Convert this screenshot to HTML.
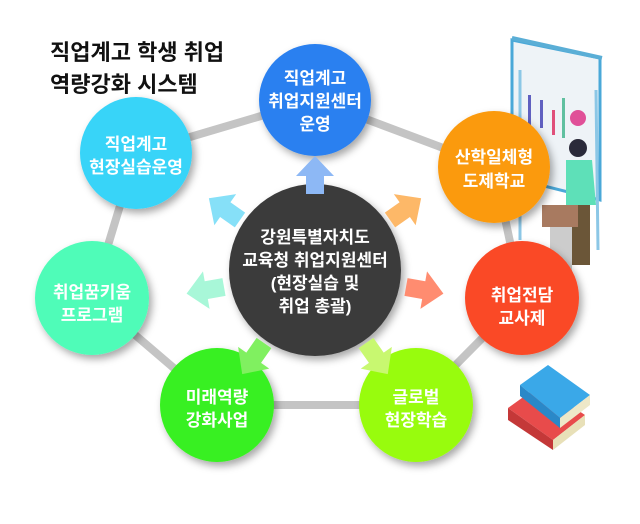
<!DOCTYPE html>
<html><head><meta charset="utf-8"><style>
body{margin:0;background:#fff;}
svg text{font-family:"Liberation Sans","Noto Sans CJK KR","NanumGothic",sans-serif;font-weight:bold;}
</style></head><body>
<svg width="640" height="519" viewBox="0 0 640 519" xmlns="http://www.w3.org/2000/svg">
<defs>
<filter id="sh" x="-30%" y="-30%" width="160%" height="160%"><feDropShadow dx="3" dy="4" stdDeviation="4" flood-color="#000" flood-opacity="0.35"/></filter>
<polygon id="ar" points="-9,0 9,0 9,-18 19,-18 0,-38 -19,-18 -9,-18"/>
</defs>
<rect width="640" height="519" fill="#fff"/>
<g stroke="#c4c4c4" stroke-width="8" fill="none">
<polyline points="136,153 315,100 494,167 522,298 416,405 217,405 92,298 136,153"/>
</g>
<g>
<polygon points="512,40 600,58 600,200 512,178" fill="#eef3f7" stroke="#4aa8d8" stroke-width="3"/>
<line x1="512" y1="38" x2="602" y2="58" stroke="#5aaed6" stroke-width="4"/>
<line x1="520" y1="70" x2="520" y2="240" stroke="#8cc7e6" stroke-width="3"/>
<line x1="596" y1="90" x2="598" y2="250" stroke="#8cc7e6" stroke-width="3"/>
<rect x="528" y="95" width="3" height="30" fill="#6060c0"/><rect x="540" y="100" width="3" height="28" fill="#6060c0"/><rect x="552" y="110" width="3" height="25" fill="#e0507a"/><rect x="562" y="98" width="3" height="40" fill="#60c0a0"/>
<circle cx="578" cy="118" r="8" fill="#e05098"/>
<circle cx="578" cy="148" r="9" fill="#2a2a3a"/>
<path d="M566 160 L592 160 L596 205 L566 205 Z" fill="#5ee0b8"/>
<rect x="570" y="205" width="20" height="60" fill="#6b5638"/>
<rect x="542" y="205" width="36" height="22" fill="#a87a60"/>
<rect x="550" y="227" width="22" height="45" fill="#ccc"/>
</g>
<g>
<polygon points="508,408 540,385 585,415 553,440" fill="#e84b4b"/>
<polygon points="508,408 553,440 553,450 508,420" fill="#c43838"/>
<polygon points="553,440 585,415 585,425 553,450" fill="#e8e0b8"/>
<polygon points="520,385 548,365 590,395 560,418" fill="#3aa8e8"/>
<polygon points="520,385 560,418 560,428 520,396" fill="#2a88c8"/>
<polygon points="560,418 590,395 590,405 560,428" fill="#eee8c8"/>
</g>
<g filter="url(#sh)">
<circle cx="315" cy="100" r="56" fill="#2a80f0"/>
<circle cx="136" cy="153" r="56" fill="#38d4f8"/>
<circle cx="494" cy="167" r="56" fill="#fb9a10"/>
<circle cx="92" cy="298" r="57" fill="#50fcb8"/>
<circle cx="522" cy="298" r="57" fill="#fa4a28"/>
<circle cx="217" cy="405" r="57" fill="#38f020"/>
<circle cx="416" cy="405" r="57" fill="#98fc08"/>
<circle cx="315" cy="270" r="86" fill="#3a3a3a"/>
</g>
<use href="#ar" fill="#8db8f5" transform="translate(315,194) rotate(0)"/>
<use href="#ar" fill="#86e0f8" transform="translate(240,220) rotate(-55)"/>
<use href="#ar" fill="#fdb868" transform="translate(390,220) rotate(55)"/>
<use href="#ar" fill="#a8f7d8" transform="translate(224,287) rotate(-100)"/>
<use href="#ar" fill="#ff8c70" transform="translate(406,287) rotate(100)"/>
<use href="#ar" fill="#80f060" transform="translate(264,343) rotate(-145)"/>
<use href="#ar" fill="#c8f870" transform="translate(366,343) rotate(145)"/>
<g fill="#fff" font-size="17" text-anchor="middle">
<text x="315" y="84">직업계고</text><text x="315" y="107">취업지원센터</text><text x="315" y="130">운영</text>
<text x="136" y="150">직업계고</text><text x="136" y="173">현장실습운영</text>
<text x="494" y="163">산학일체형</text><text x="494" y="187">도제학교</text>
<text x="92" y="298">취업꿈키움</text><text x="92" y="321">프로그램</text>
<text x="522" y="301">취업전담</text><text x="522" y="324">교사제</text>
<text x="217" y="403">미래역량</text><text x="217" y="426">강화사업</text>
<text x="416" y="403">글로벌</text><text x="416" y="426">현장학습</text>
<text x="315" y="243">강원특별자치도</text><text x="315" y="266">교육청 취업지원센터</text><text x="315" y="289">(현장실습 및</text><text x="315" y="312">취업 총괄)</text>
</g>
<g fill="#111" font-size="22">
<text x="50" y="60">직업계고 학생 취업</text>
<text x="50" y="92">역량강화 시스템</text>
</g>
</svg>
</body></html>
